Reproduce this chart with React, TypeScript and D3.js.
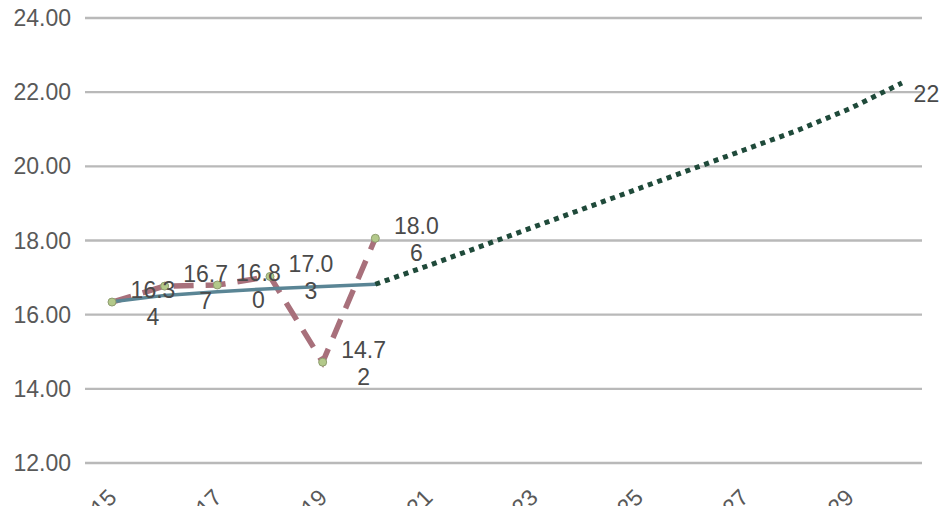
import React from 'react'
import * as d3 from 'd3'

const actualYears = [2015, 2016, 2017, 2018, 2019, 2020]
const actualValues = [16.34, 16.77, 16.8, 17.03, 14.72, 18.06]

const trendYears = [2015, 2016, 2017, 2018, 2019, 2020]
const trendValues = [16.35, 16.52, 16.62, 16.7, 16.76, 16.82]

const projYears = [2020, 2021, 2022, 2023, 2024, 2025, 2026, 2027, 2028, 2029, 2030]
const projValues = [16.82, 17.32, 17.84, 18.36, 18.88, 19.4, 19.92, 20.44, 20.96, 21.55, 22.25]
const projLabel = '22.25'

const yTicks = [12, 14, 16, 18, 20, 22, 24]
const xTicks = [2015, 2017, 2019, 2021, 2023, 2025, 2027, 2029]

const W = 939
const H = 506
const font = 'Liberation Sans, Arial, sans-serif'

const App = () => {
  const x = d3.scaleLinear().domain([2015, 2030]).range([112, 902])
  const y = d3.scaleLinear().domain([12, 24]).range([463, 18])

  const line = d3
    .line<[number, number]>()
    .x((d) => x(d[0]))
    .y((d) => y(d[1]))

  const actual = actualYears.map((yr, i) => [yr, actualValues[i]] as [number, number])
  const trend = trendYears.map((yr, i) => [yr, trendValues[i]] as [number, number])
  const proj = projYears.map((yr, i) => [yr, projValues[i]] as [number, number])
  const last = proj[proj.length - 1]

  const splitLabel = (s: string) => [s.slice(0, 4), s.slice(4)]

  return (
    <svg
      width={W}
      height={H}
      style={{ position: 'absolute', left: 0, top: 0, background: '#fff' }}
      fontFamily={font}
    >
      {yTicks.map((t) => (
        <g key={t}>
          <line x1={85} x2={922} y1={y(t)} y2={y(t)} stroke="#b9b9b9" strokeWidth={2.4} />
          <text x={71} y={y(t) + 8} textAnchor="end" fontSize={23} fill="#595959">
            {d3.format('.2f')(t)}
          </text>
        </g>
      ))}

      {xTicks.map((t) => (
        <text
          key={t}
          transform={`translate(${x(t) + 6},${499}) rotate(-45)`}
          textAnchor="end"
          fontSize={23}
          fill="#595959"
        >
          {t}
        </text>
      ))}

      <path
        d={line(actual) || ''}
        fill="none"
        stroke="#a8707b"
        strokeWidth={5.5}
        strokeDasharray="20,12"
      />
      <path d={line(trend) || ''} fill="none" stroke="#5a8595" strokeWidth={3.5} strokeLinecap="round" />
      <path
        d={line(proj) || ''}
        fill="none"
        stroke="#1f4a3a"
        strokeWidth={5}
        strokeDasharray="5,5"
      />

      {actual.map((d, i) => (
        <circle key={i} cx={x(d[0])} cy={y(d[1])} r={4} fill="#b3c98a" stroke="#8f9d70" strokeWidth={1} />
      ))}

      {actual.map((d, i) => {
        const [a, b] = splitLabel(d3.format('.2f')(d[1]))
        const cx = x(d[0]) + 41
        const cy = y(d[1])
        return (
          <text key={i} textAnchor="middle" fontSize={23} fill="#4a4a4a">
            <tspan x={cx} y={cy - 4}>{a}</tspan>
            <tspan x={cx} y={cy + 23}>{b}</tspan>
          </text>
        )
      })}

      <text textAnchor="middle" fontSize={23} fill="#4a4a4a">
        <tspan x={x(last[0]) + 34} y={y(last[1]) + 19}>{splitLabel(projLabel)[0]}</tspan>
      </text>
    </svg>
  )
}

export default App
